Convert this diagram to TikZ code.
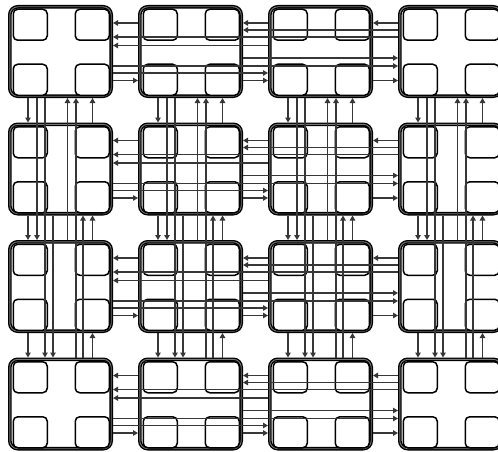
\documentclass[tikz,border=0pt]{standalone}
\usetikzlibrary{arrows.meta}
\definecolor{linkgray}{RGB}{55,55,55}
\definecolor{rimgray}{RGB}{120,120,120}
\begin{document}
\begin{tikzpicture}[x=1pt,y=-1pt,
  block/.style={draw=black, double=rimgray, line width=1.35pt, double distance=0.9pt,
    rounded corners=8pt, minimum width=101.4pt, minimum height=89.4pt,
    inner sep=0pt, outer sep=1.8pt, anchor=north west, fill=white},
  core/.style={draw=black, line width=1.5pt, rounded corners=4.5pt,
    minimum width=34pt, minimum height=31pt, inner sep=0pt, outer sep=0.75pt,
    anchor=north west, fill=white},
  link/.style={draw=linkgray, line width=1.6pt, -{Triangle[length=5pt,width=5.5pt]}}]
\useasboundingbox (0,0) rectangle (498,452);
\clip (0,0) rectangle (498,452);
% blocks and cores
\foreach \r in {0,...,3} {
  \foreach \c in {0,...,3} {
    \node[block] (B-\r-\c) at ({8+130*\c},{5+117.5*\r}) {};
    \node[core] (C-\r-\c-a) at ({12.5+130*\c},{8.5+117.5*\r}) {};
    \node[core] (C-\r-\c-b) at ({74.5+130*\c},{8.5+117.5*\r}) {};
    \node[core] (C-\r-\c-c) at ({12.5+130*\c},{63.5+117.5*\r}) {};
    \node[core] (C-\r-\c-d) at ({74.5+130*\c},{63.5+117.5*\r}) {};
  }
}
% horizontal links in each row
\foreach \r in {0,...,3} {
  \foreach \s/\d/\o in {1/0/18, 2/1/18, 3/2/18, 3/1/25, 3/0/32, 2/0/40.5} {
    \draw[link] ([yshift={-\o*1pt}]B-\r-\s.north west) -- ([yshift={-\o*1pt}]B-\r-\d.north east);
  }
  \foreach \s/\d/\o in {0/1/75.5, 1/2/75.5, 2/3/75.5, 1/3/53, 0/3/61, 0/2/68} {
    \draw[link] ([yshift={-\o*1pt}]B-\r-\s.north east) -- ([yshift={-\o*1pt}]B-\r-\d.north west);
  }
}
% vertical links in each column
\foreach \c in {0,...,3} {
  \foreach \s/\d/\o in {0/1/20, 1/2/20, 2/3/20, 0/2/29, 0/3/37, 1/3/45} {
    \draw[link] ([xshift={\o*1pt}]B-\s-\c.south west) -- ([xshift={\o*1pt}]B-\d-\c.north west);
  }
  \foreach \s/\d/\o in {1/0/84.5, 2/1/84.5, 3/2/84.5, 2/0/59.5, 3/0/68, 3/1/75} {
    \draw[link] ([xshift={\o*1pt}]B-\s-\c.north west) -- ([xshift={\o*1pt}]B-\d-\c.south west);
  }
}
\end{tikzpicture}
\end{document}
